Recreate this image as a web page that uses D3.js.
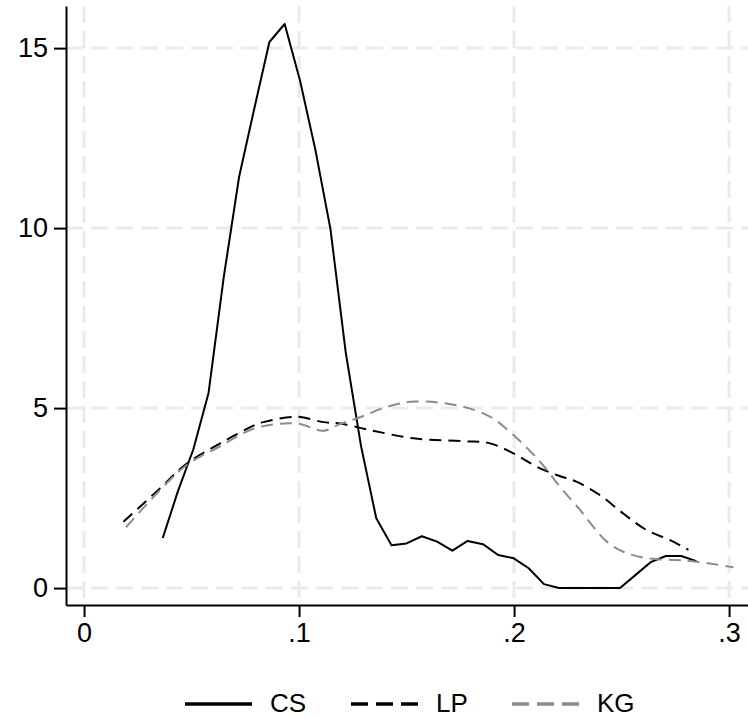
<!DOCTYPE html>
<html>
<head>
<meta charset="utf-8">
<script src="https://cdn.jsdelivr.net/npm/d3@7"></script>
<style>
  body { margin: 0; background: #fff; }
  text { font-family: "Liberation Sans", Arial, sans-serif; }
</style>
</head>
<body>
<div id="chart"></div>
<script>
// series values
const csX = [0.0366, 0.0437, 0.0508, 0.0579, 0.0650, 0.0721, 0.0791, 0.0862, 0.0933, 0.1004,
  0.1075, 0.1146, 0.1217, 0.1288, 0.1359, 0.1430, 0.1500, 0.1571, 0.1642, 0.1713,
  0.1784, 0.1855, 0.1926, 0.1997, 0.2068, 0.2139, 0.2209, 0.2280, 0.2351, 0.2422,
  0.2493, 0.2564, 0.2635, 0.2706, 0.2777, 0.2848]
const csY = [1.39, 2.7, 3.85, 5.42, 8.65, 11.42, 13.3, 15.17, 15.67, 14.11,
  12.2, 9.97, 6.55, 3.95, 1.94, 1.19, 1.24, 1.44, 1.29, 1.04,
  1.31, 1.22, 0.92, 0.83, 0.55, 0.11, 0, 0, 0, 0,
  0, 0.36, 0.72, 0.89, 0.89, 0.75]

const lpX = [0.0183, 0.0353, 0.0478, 0.0633, 0.0795, 0.0834, 0.0989, 0.1113, 0.1191, 0.133,
  0.1532, 0.1764, 0.1888, 0.2013, 0.2106, 0.2199, 0.2292, 0.24, 0.2508, 0.2617, 0.2726, 0.2811]
const lpY = [1.84, 2.77, 3.46, 4.02, 4.53, 4.61, 4.76, 4.61, 4.57, 4.39,
  4.16, 4.08, 4.02, 3.69, 3.37, 3.14, 2.95, 2.58, 2.07, 1.61, 1.33, 1.06]

const kgX = [0.0195, 0.0353, 0.0478, 0.0633, 0.0795, 0.0989, 0.1113, 0.1191, 0.1268, 0.1423,
  0.154, 0.1733, 0.1888, 0.1997, 0.2121, 0.2214, 0.2307, 0.2369, 0.2431, 0.2508,
  0.2617, 0.2757, 0.285, 0.302]
const kgY = [1.69, 2.72, 3.42, 3.94, 4.44, 4.57, 4.37, 4.56, 4.71, 5.06,
  5.18, 5.08, 4.76, 4.25, 3.51, 2.81, 2.17, 1.70, 1.29, 1.01,
  0.83, 0.78, 0.73, 0.58]

const xTicks = [0, 0.1, 0.2, 0.3]
const xTickLabels = ["0", ".1", ".2", ".3"]
const yTicks = [0, 5, 10, 15]
const seriesNames = ["CS", "LP", "KG"]

const W = 748, H = 718
const plotLeft = 66, plotRight = 748, plotTop = 6, plotBottom = 605

const svg = d3.select("#chart").append("svg")
  .attr("width", W)
  .attr("height", H)

const x = d3.scaleLinear().domain([-0.0084, 0.3088]).range([plotLeft, plotRight])
const y = d3.scaleLinear().domain([-0.47, 16.17]).range([plotBottom, plotTop])

// grid
const grid = svg.append("g")
  .attr("stroke", "#ebebeb")
  .attr("stroke-width", 3)
  .attr("stroke-dasharray", "17,8")
grid.selectAll("line.h")
  .data(yTicks)
  .enter().append("line")
  .attr("x1", plotLeft).attr("x2", plotRight)
  .attr("y1", d => y(d)).attr("y2", d => y(d))
grid.selectAll("line.v")
  .data(xTicks)
  .enter().append("line")
  .attr("y1", plotTop).attr("y2", plotBottom)
  .attr("x1", d => x(d)).attr("x2", d => x(d))

// axes
svg.append("g")
  .attr("transform", "translate(0," + plotBottom + ")")
  .call(d3.axisBottom(x).tickValues(xTicks).tickFormat((d, i) => xTickLabels[i])
    .tickSize(12).tickSizeOuter(0).tickPadding(6))
svg.append("g")
  .attr("transform", "translate(" + plotLeft + ",0)")
  .call(d3.axisLeft(y).tickValues(yTicks).tickFormat(d3.format("d"))
    .tickSize(12).tickSizeOuter(0).tickPadding(6))

svg.selectAll(".domain, .tick line")
  .attr("stroke", "#000")
  .attr("stroke-width", 2)
svg.selectAll(".tick text")
  .attr("font-size", 27)
  .attr("fill", "#000")
  .style("font-family", "'Liberation Sans', Arial, sans-serif")

// series
const line = d3.line()
  .x(d => x(d[0]))
  .y(d => y(d[1]))

const lineSmooth = d3.line()
  .x(d => x(d[0]))
  .y(d => y(d[1]))
  .curve(d3.curveCatmullRom)

const series = [
  { name: seriesNames[0], pts: d3.zip(csX, csY), color: "#000", dash: null, gen: line },
  { name: seriesNames[1], pts: d3.zip(lpX, lpY), color: "#000", dash: "12,7", gen: lineSmooth },
  { name: seriesNames[2], pts: d3.zip(kgX, kgY), color: "#8c8c8c", dash: "12,7", gen: lineSmooth }
]

series.forEach(s => {
  svg.append("path")
    .attr("d", s.gen(s.pts))
    .attr("fill", "none")
    .attr("stroke", s.color)
    .attr("stroke-width", 2)
    .attr("stroke-linejoin", "round")
    .attr("stroke-dasharray", s.dash)
})

// legend
const legendX = [185, 351, 512]
const legend = svg.append("g")
series.forEach((s, i) => {
  legend.append("line")
    .attr("x1", legendX[i]).attr("x2", legendX[i] + 67)
    .attr("y1", 704).attr("y2", 704)
    .attr("stroke", s.color)
    .attr("stroke-width", 3.5)
    .attr("stroke-dasharray", s.dash ? "17,8" : null)
  legend.append("text")
    .attr("x", legendX[i] + 85)
    .attr("y", 712)
    .attr("font-size", 26)
    .attr("fill", "#000")
    .text(s.name)
})
</script>
</body>
</html>
